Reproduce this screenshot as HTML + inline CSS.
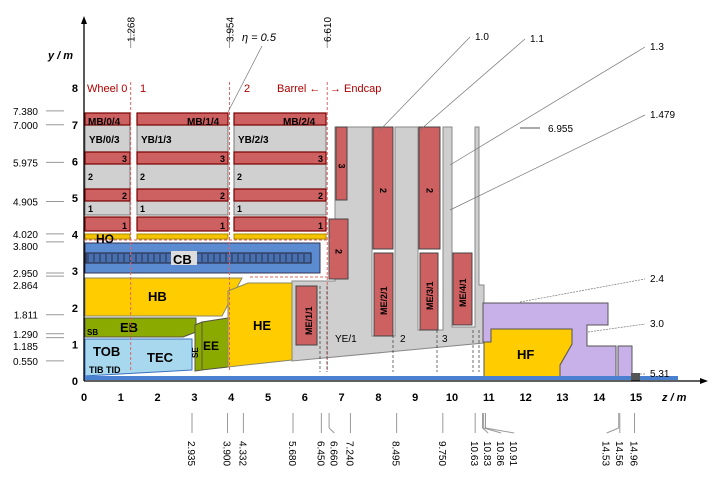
<!DOCTYPE html>
<html><head><meta charset="utf-8"><style>
html,body{margin:0;padding:0;background:#fff}
svg{display:block;font-family:"Liberation Sans",sans-serif}
</style></head><body>
<svg id="c" width="723" height="481" viewBox="0 0 723 481">
<g id="shapes">
<polygon points="292,281 335,281 335,127 372,127 372,336 395,336 395,127 418,127 418,330 443,330 443,127 452,127 452,327 475,327 475,127 479,127 479,285 484,285 484,343 292,361" fill="#cfcfcf" stroke="#888" stroke-width="1"/>
<g>
<rect x="85" y="113" width="45" height="102" fill="#d0d0d0" stroke="#777"/>
<rect x="137" y="113" width="91" height="102" fill="#d0d0d0" stroke="#777"/>
<rect x="234" y="113" width="92" height="102" fill="#d0d0d0" stroke="#777"/>
</g>
<g id="mb"></g>
<rect x="85" y="234" width="45" height="5" fill="#f5c400" stroke="#a80"/>
<rect x="137" y="234" width="91" height="5" fill="#f5c400" stroke="#a80"/>
<rect x="234" y="234" width="92" height="5" fill="#f5c400" stroke="#a80"/>
<rect x="85" y="243" width="235" height="30" fill="#5b8bd0" stroke="#335"/>
<rect x="86" y="253" width="225" height="10" fill="#4870b0" stroke="#223"/>
<g id="coil"></g>
<rect x="171" y="251" width="26" height="14" fill="#ddd"/>
<polygon points="85,278 242,278 222,316 85,316" fill="#ffcc00" stroke="#886"/>
<polygon points="85,318 196,318 196,332 183,337 85,337" fill="#8aaa00" stroke="#554"/>
<polygon points="85,339 192,339 192,370 120,374 85,376" fill="#a8d8ee" stroke="#3a70c0"/>
<polygon points="195,325 202,322 202,370 195,371" fill="#8aaa00" stroke="#554"/>
<polygon points="202,322 228,318 228,367 202,370" fill="#8aaa00" stroke="#554"/>
<polygon points="228,291 248,283 292,283 292,360 228,367" fill="#ffcc00" stroke="#886"/>
<rect x="296" y="286" width="21" height="59" fill="#cd6060" stroke="#444"/>
<g id="me"></g>
<polygon points="483,303 608,303 608,325 587,325 587,346 616,346 616,378 560,378 560,365 572,344 572,329 491,329 491,342 483,342" fill="#c8b0e8" stroke="#555"/>
<rect x="618" y="346" width="14" height="32" fill="#c8b0e8" stroke="#555"/>
<polygon points="491,329 572,329 572,344 560,365 560,378 484,378 484,342 491,342" fill="#ffcc00" stroke="#555"/>
<rect x="84" y="376" width="594" height="4" fill="#4a80d0"/>
<rect x="631" y="373" width="9" height="8" fill="#555"/>
</g>
<g id="deco"></g>
<g id="labels" font-size="13" font-weight="bold">
<text x="88" y="125" font-size="10">MB/0/4</text><text x="187" y="125" font-size="10">MB/1/4</text><text x="283" y="125" font-size="10">MB/2/4</text>
<text x="89" y="143" font-size="10">YB/0/3</text><text x="141" y="143" font-size="10">YB/1/3</text><text x="238" y="143" font-size="10">YB/2/3</text>
<text x="96" y="243" font-size="12">HO</text>
<text x="173" y="264" font-size="13">CB</text>
<text x="148" y="301" font-size="13">HB</text>
<text x="120" y="332" font-size="13">EB</text>
<text x="87" y="335" font-size="8">SB</text>
<text x="93" y="356" font-size="13">TOB</text>
<text x="147" y="362" font-size="13">TEC</text>
<text x="89" y="373" font-size="9">TIB TID</text>
<text x="203" y="350" font-size="12">EE</text>
<text x="253" y="330" font-size="13">HE</text>
<text x="335" y="342" font-size="10" font-weight="normal">YE/1</text>
<text x="400" y="342" font-size="10" font-weight="normal">2</text>
<text x="442" y="342" font-size="10" font-weight="normal">3</text>
<text x="517" y="359" font-size="13">HF</text>
<text transform="translate(312,335) rotate(-90)" font-size="9">ME/1/1</text>
<text transform="translate(387,315) rotate(-90)" font-size="9">ME/2/1</text>
<text transform="translate(433,310) rotate(-90)" font-size="9">ME/3/1</text>
<text transform="translate(466,307) rotate(-90)" font-size="9">ME/4/1</text>
<text transform="translate(198,358) rotate(-90)" font-size="8">SE</text>
<g fill="#b00000" font-size="11" font-weight="normal">
<text x="87" y="92">Wheel 0</text><text x="140" y="92">1</text><text x="244" y="92">2</text>
<text x="277" y="92">Barrel ←</text><text x="330" y="92">→ Endcap</text></g>
<text x="242" y="41" font-size="11" font-weight="normal" font-style="italic">η = 0.5</text>
</g>
<g id="axes"></g>
</svg>
<script>
const NS="http://www.w3.org/2000/svg";
const xTicks=[0,1,2,3,4,5,6,7,8,9,10,11,12,13,14,15];
const yTicks=[0,1,2,3,4,5,6,7,8];
const rMarks=["7.380","7.000","5.975","4.905","4.020","3.800","2.950","2.864","1.811","1.290","1.185","0.550"];
const zMarks=["2.935","3.900","4.332","5.680","6.450","6.660","7.240","8.495","9.750","10.63","10.83","10.86","10.91","14.53","14.56","14.96"];
const zTop=["1.268","3.954","6.610"];
const etaLabels=["1.0","1.1","1.3","1.479","2.4","3.0","5.31"];
const etaEnds=[[380,130],[420,130],[450,165],[450,210],[520,302],[588,332],[640,374]];
const etaLabelPos=[[475,40],[530,42],[650,50],[650,118],[650,282],[650,327],[650,377]];
const X=z=>84+36.8*z, Y=r=>381-36.6*r;
function mk(t,a,p){const e=document.createElementNS(NS,t);for(const k in a)e.setAttribute(k,a[k]);(p||document.getElementById('axes')).appendChild(e);return e;}
let e=mk('line',{x1:84,y1:381,x2:705,y2:381,stroke:'#000','stroke-width':1.3});


e=mk('line',{x1:84,y1:381,x2:84,y2:20,stroke:'#000','stroke-width':1.3});


mk('polygon',{points:'708,381 700,378 700,384'});mk('polygon',{points:'84,16 81,24 87,24'});
e=mk('text',{x:48,y:59,'font-size':11,'font-style':'italic','font-weight':'bold'});e.textContent='y / m';


e=mk('text',{x:662,y:401,'font-size':11,'font-style':'italic','font-weight':'bold'});e.textContent='z / m';


xTicks.forEach(v=>{const t=mk('text',{x:X(v),y:401,'font-size':11,'font-weight':'bold','text-anchor':'middle'});t.textContent=v;

});
yTicks.forEach(v=>{const t=mk('text',{x:78,y:Y(v)+4,'font-size':11,'font-weight':'bold','text-anchor':'end'});t.textContent=v;

});
let prevY=-99;
rMarks.forEach(s=>{const y=Y(parseFloat(s));let ly=Math.max(y,prevY+12);prevY=ly;
mk('line',{x1:46,y1:y,x2:64,y2:y,stroke:'#999'});
const t=mk('text',{x:38,y:ly+4,'font-size':10,'text-anchor':'end'});t.textContent=s;

});
let lastX=-99;
zMarks.forEach((s,i)=>{let x=X(parseFloat(s));let lx=Math.max(x,lastX+13);if(i==13)lx=x-12;lastX=lx;
mk('line',{x1:x,y1:413,x2:x,y2:428,stroke:'#999'});mk('line',{x1:x,y1:428,x2:lx,y2:433,stroke:'#999'});
const t=mk('text',{transform:`translate(${lx-4},441) rotate(90)`,'font-size':10});t.textContent=s;

});
zTop.forEach(s=>{const x=X(parseFloat(s));mk('line',{x1:x,y1:30,x2:x,y2:48,stroke:'#999'});
mk('line',{x1:x,y1:82,x2:x,y2:372,stroke:'#d66','stroke-dasharray':'3,2'});
const t=mk('text',{transform:`translate(${x+4},42) rotate(-90)`,'font-size':10});t.textContent=s;

});
etaLabels.forEach((s,i)=>{const [lx,ly]=etaLabelPos[i],[ex,ey]=etaEnds[i];
mk('line',{x1:ex,y1:ey,x2:lx-5,y2:ly-3,stroke:'#777','stroke-width':0.7,'stroke-dasharray':i>=4?'2,1':''});
const t=mk('text',{x:lx,y:ly,'font-size':10});t.textContent=s;

});
mk('line',{x1:520,y1:128,x2:540,y2:128,stroke:'#555'});
e=mk('text',{x:548,y:132,'font-size':10});e.textContent='6.955';


mk('line',{x1:228,y1:112,x2:262,y2:46,stroke:'#777','stroke-width':0.7});
const mb=document.getElementById('mb');
const wheels=[[85,45],[137,91],[234,92]];
const rows=[[113,12,''],[152,12,'3'],[189,12,'2'],[217,14,'1']];
wheels.forEach(w=>rows.forEach(r=>{const c=mk('rect',{x:w[0],y:r[0],width:w[1],height:r[1],fill:'#cd6060',stroke:'#700','stroke-width':1.2},mb);


if(r[2]){const t=mk('text',{x:w[0]+w[1]-3,y:r[0]+r[1]-2,'font-size':9,'font-weight':'bold','text-anchor':'end'},mb);t.textContent=r[2];}}));
wheels.forEach(w=>[['2',180],['1',212]].forEach(a=>{const t=mk('text',{x:w[0]+3,y:a[1],'font-size':9,'font-weight':'bold'},mb);t.textContent=a[0];}));
const coil=document.getElementById('coil');
for(let x=88;x<310;x+=6)mk('line',{x1:x,y1:254,x2:x,y2:262,stroke:'#223','stroke-width':0.8},coil);
const me=document.getElementById('me');
[[336,127,11,73,'3'],[329,219,19,60,'2'],[373,127,20,122,'2'],[374,253,19,83,''],[419,127,21,122,'2'],[420,253,18,77,''],[453,253,19,72,'']].forEach(c=>{
const r=mk('rect',{x:c[0],y:c[1],width:c[2],height:c[3],fill:'#cd6060',stroke:'#444'},me);


if(c[4]){const t=mk('text',{transform:`translate(${c[0]+c[2]/2-3},${c[1]+c[3]/2}) rotate(90)`,'font-size':9,'font-weight':'bold'},me);t.textContent=c[4];}});
[[320,286],[327,286],[393,330],[437,330],[473,330],[479,330]].forEach(d=>mk('line',{x1:d[0],y1:d[1],x2:d[0],y2:372,stroke:'#333','stroke-dasharray':'3,2','stroke-width':0.7}));
mk('polyline',{points:'84,240 330,240 330,277 248,277',fill:'none',stroke:'#d66','stroke-dasharray':'3,2'});
</script>
</body></html>
